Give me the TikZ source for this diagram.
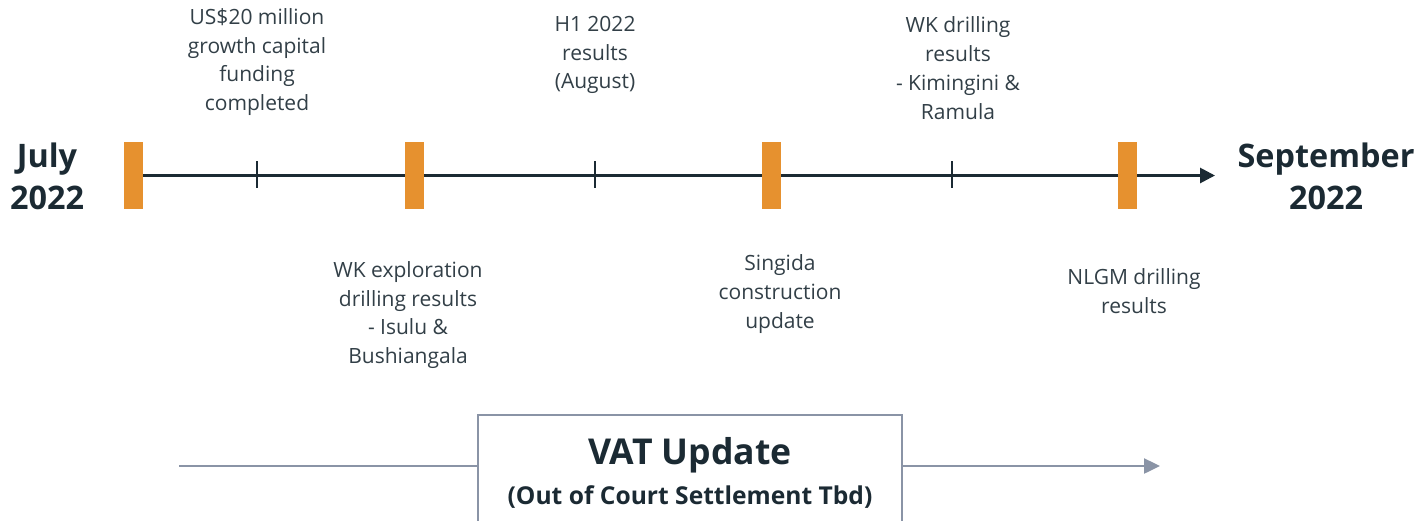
\documentclass[tikz,border=0pt]{standalone}
\usepackage{fontspec}
\setmainfont{Open Sans}
\usetikzlibrary{math,arrows.meta}
\definecolor{ink}{HTML}{1B2A33}
\definecolor{barorange}{HTML}{E6912F}
\definecolor{slate}{HTML}{8A94A6}

\begin{document}
\begin{tikzpicture}[x=0.5pt,y=-0.5pt,
    bar/.style={fill=barorange, inner sep=0pt, minimum width=9.5pt, minimum height=33.5pt},
    lbl/.style={align=center, text=ink!90, font=\fontsize{10.5}{14.4}\selectfont},
    month/.style={align=center, text=ink, font=\fontsize{16.2}{21}\selectfont\bfseries},
    vatbox/.style={draw=slate, line width=1pt, fill=white, minimum width=212pt, minimum height=62.5pt}]
  \useasboundingbox (0,0) rectangle (1416,520);
  \tikzmath{\ya = 175.5; \yv = 466;}
  % months
  \node[month] (jul) at (47,176) {July\\2022};
  \node[month] (sep) at (1326,176) {September\\2022};
  % milestones on the axis
  \node[bar] (m1) at (133.5,\ya) {};
  \node[bar] (m2) at (414.5,\ya) {};
  \node[bar] (m3) at (771.5,\ya) {};
  \node[bar] (m4) at (1127.5,\ya) {};
  \coordinate (tip) at (1215,\ya);
  \draw[ink, line width=1.4pt] (m1.east) -- (m2.west);
  \draw[ink, line width=1.4pt] (m2.east) -- (m3.west);
  \draw[ink, line width=1.4pt] (m3.east) -- (m4.west);
  \draw[ink, line width=1.4pt, -{Triangle[length=7.5pt,width=7.5pt]}] (m4.east) -- (tip);
  \foreach \x in {257,595,952}
    \draw[ink, line width=0.9pt] (\x,161) -- (\x,188);
  % labels above
  \node[lbl] (funding) at (257,62) {US\$20 million\\growth capital\\funding\\completed};
  \node[lbl] (half) at (595,55) {H1 2022\\results\\(August)};
  \node[lbl] (wkdrill) at (958,68) {WK drilling\\results\\- Kimingini \&\\Ramula};
  % labels below
  \node[lbl] (wkexpl) at (408,315) {WK exploration\\drilling results\\- Isulu \&\\Bushiangala};
  \node[lbl] (singida) at (780,294) {Singida\\construction\\update};
  \node[lbl] (nlgm) at (1134,291) {NLGM drilling\\results};
  % VAT
  \coordinate (vs) at (179,\yv);
  \coordinate (ve) at (1160,\yv);
  \node[vatbox] (vat) at (690,477.5) {};
  \draw[slate, line width=1.2pt] (vs) -- (vat.west |- vs);
  \draw[slate, line width=1.2pt, -{Triangle[length=8pt,width=7.5pt]}] (vat.east |- ve) -- (ve);
  \node[text=ink, font=\fontsize{17.8}{20}\selectfont\bfseries] (vattitle) at (690,455) {VAT Update};
  \node[text=ink, font=\fontsize{12.3}{14}\selectfont\bfseries] (vatsub) at (690,497) {(Out of Court Settlement Tbd)};
\end{tikzpicture}
\end{document}
